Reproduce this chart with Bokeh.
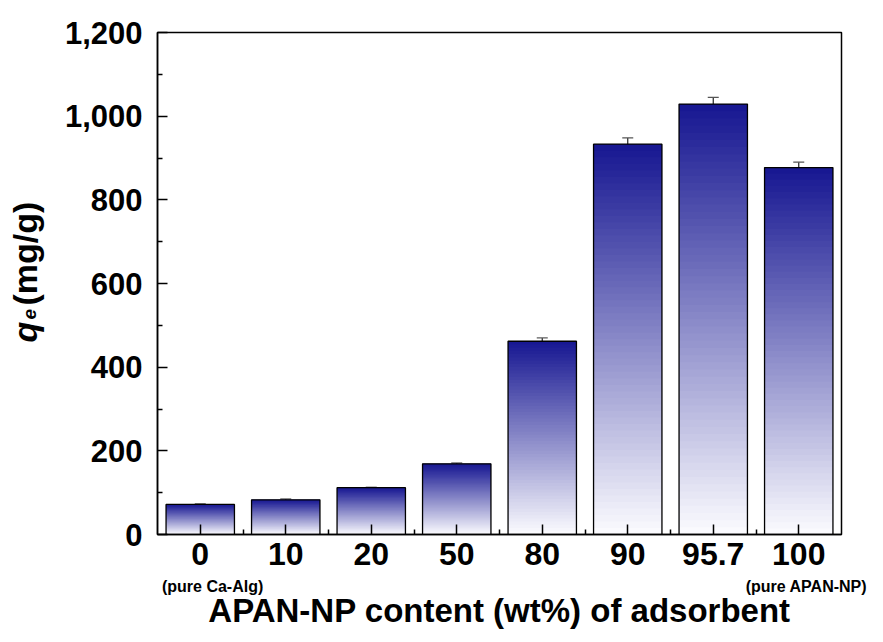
import math
from bokeh.plotting import figure
from bokeh.layouts import row
from bokeh.models import (Range1d, FixedTicker, NumeralTickFormatter, Whisker,
                          ColumnDataSource, Label, TeeHead, LinearAxis)
from bokeh.embed import file_html
from bokeh.resources import INLINE

# ---- data ----
categories = ["0", "10", "20", "50", "80", "90", "95.7", "100"]
qe_values = [72, 83, 112, 169, 462, 933, 1029, 877]
qe_errors = [1, 2, 1, 2, 8, 15, 16, 13]
y_ticks = [0, 200, 400, 600, 800, 1000, 1200]
y_minor = [100, 300, 500, 700, 900, 1100]
sub_labels = ["(pure Ca-Alg)", "(pure APAN-NP)"]
sub_label_pos = [0.645, 7.59]   # x positions (category units) of the sub-label centres

FONT = "Liberation Sans"
TOP_RGB = (22, 22, 145)
BOT_RGB = (252, 252, 255)
N_STRIPS = 60
BAR_W = 0.8
TITLE_W = 60
TOTAL_W, TOTAL_H = 875, 634
FRAME_TOP, FRAME_BOTTOM = 32, 534

n = len(categories)
centers = [i + 0.5 for i in range(n)]

p = figure(width=TOTAL_W - TITLE_W, height=TOTAL_H, output_backend="svg", toolbar_location=None,
           x_range=Range1d(0, n), y_range=Range1d(0, 1200),
           min_border_left=157 - TITLE_W, min_border_right=34, min_border_top=FRAME_TOP,
           min_border_bottom=TOTAL_H - FRAME_BOTTOM)
p.xgrid.visible = False
p.ygrid.visible = False
p.outline_line_color = "black"
p.outline_line_width = 1.5
p.background_fill_color = "white"
p.border_fill_color = "white"

# gradient strips computed from bar values
xs, bots, tops, cols = [], [], [], []
for c, v in zip(centers, qe_values):
    for k in range(N_STRIPS):
        t = (k + 0.5) / N_STRIPS  # 0 bottom, 1 top
        r = round(BOT_RGB[0] + (TOP_RGB[0] - BOT_RGB[0]) * t)
        g = round(BOT_RGB[1] + (TOP_RGB[1] - BOT_RGB[1]) * t)
        b = round(BOT_RGB[2] + (TOP_RGB[2] - BOT_RGB[2]) * t)
        xs.append(c)
        bots.append(v * k / N_STRIPS)
        tops.append(min(v, v * (k + 2.5) / N_STRIPS))
        cols.append("#%02x%02x%02x" % (r, g, b))
p.vbar(x=xs, bottom=bots, top=tops, width=BAR_W, fill_color=cols, line_color=None)

# bar outlines
p.vbar(x=centers, top=qe_values, width=BAR_W, fill_alpha=0,
       line_color="black", line_width=1.3)

# error bars
src = ColumnDataSource(dict(x=centers,
                            upper=[v + e for v, e in zip(qe_values, qe_errors)],
                            lower=[v - e for v, e in zip(qe_values, qe_errors)]))
w = Whisker(source=src, base="x", upper="upper", lower="lower",
            line_color="#222222", line_width=1.2)
w.upper_head = TeeHead(size=11, line_color="#555555", line_width=1.2)
w.lower_head = TeeHead(size=11, line_color="#111111", line_width=1.2)
p.add_layout(w)

# main x axis
xa = p.xaxis[0]
xa.ticker = FixedTicker(ticks=centers, minor_ticks=[i for i in range(1, n)])
xa.major_label_overrides = {c: lab for c, lab in zip(centers, categories)}
xa.major_tick_in = 10
xa.major_tick_out = 0
xa.minor_tick_in = 5
xa.minor_tick_out = 0
xa.axis_line_width = 1.5
xa.major_tick_line_width = 1.5
xa.minor_tick_line_width = 1.5
xa.major_label_text_font = FONT
xa.major_label_text_font_style = "bold"
xa.major_label_text_font_size = "32px"
xa.major_label_text_color = "black"
xa.major_label_standoff = 8

# secondary x axis carrying the sub-labels and the x title
sub = LinearAxis(ticker=FixedTicker(ticks=sub_label_pos),
                 major_label_overrides={x: t for x, t in zip(sub_label_pos, sub_labels)},
                 axis_line_color=None, major_tick_line_color=None, minor_tick_line_color=None,
                 major_tick_in=0, major_tick_out=0, minor_tick_in=0, minor_tick_out=0)
sub.major_label_text_font = FONT
sub.major_label_text_font_style = "bold"
sub.major_label_text_font_size = "16px"
sub.major_label_text_color = "black"
sub.major_label_standoff = 10
sub.axis_label = "APAN-NP content (wt%) of adsorbent"
sub.axis_label_text_font = FONT
sub.axis_label_text_font_style = "bold"
sub.axis_label_text_font_size = "33px"
sub.axis_label_text_color = "black"
sub.axis_label_standoff = -6
p.add_layout(sub, "below")

# y axis
ya = p.yaxis[0]
ya.ticker = FixedTicker(ticks=y_ticks, minor_ticks=y_minor)
ya.formatter = NumeralTickFormatter(format="0,0")
ya.major_tick_in = 10
ya.major_tick_out = 0
ya.minor_tick_in = 5
ya.minor_tick_out = 0
ya.axis_line_width = 1.5
ya.major_tick_line_width = 1.5
ya.minor_tick_line_width = 1.5
ya.major_label_text_font = FONT
ya.major_label_text_font_style = "bold"
ya.major_label_text_font_size = "31px"
ya.major_label_text_color = "black"
ya.major_label_standoff = 15

# narrow text-only figure holding the rotated y title  q_e (mg/g);
# its frame is aligned with the chart frame, so y = TOTAL_H - page_y
t = figure(title=None, frame_width=TITLE_W, frame_height=FRAME_BOTTOM - FRAME_TOP,
           output_backend="svg", toolbar_location=None,
           x_range=Range1d(0, TITLE_W),
           y_range=Range1d(TOTAL_H - FRAME_BOTTOM, TOTAL_H - FRAME_TOP),
           x_axis_location=None, y_axis_location=None, min_border=0)
t.xgrid.visible = False
t.ygrid.visible = False
t.outline_line_color = None
t.border_fill_color = "white"
ang = math.pi / 2
t.add_layout(Label(x=24, y=TOTAL_H - 342, text="q", angle=ang,
                   text_font=FONT, text_font_style="bold italic", text_font_size="34px",
                   text_align="left", text_baseline="alphabetic", text_color="black"))
t.add_layout(Label(x=29, y=TOTAL_H - 319, text="e", angle=ang,
                   text_font=FONT, text_font_style="bold italic", text_font_size="19px",
                   text_align="left", text_baseline="alphabetic", text_color="black"))
t.add_layout(Label(x=24, y=TOTAL_H - 305, text="(mg/g)", angle=ang,
                   text_font=FONT, text_font_style="bold", text_font_size="34px",
                   text_align="left", text_baseline="alphabetic", text_color="black"))

layout = row(t, p, spacing=0)
open("out.html", "w").write(file_html(layout, INLINE))
